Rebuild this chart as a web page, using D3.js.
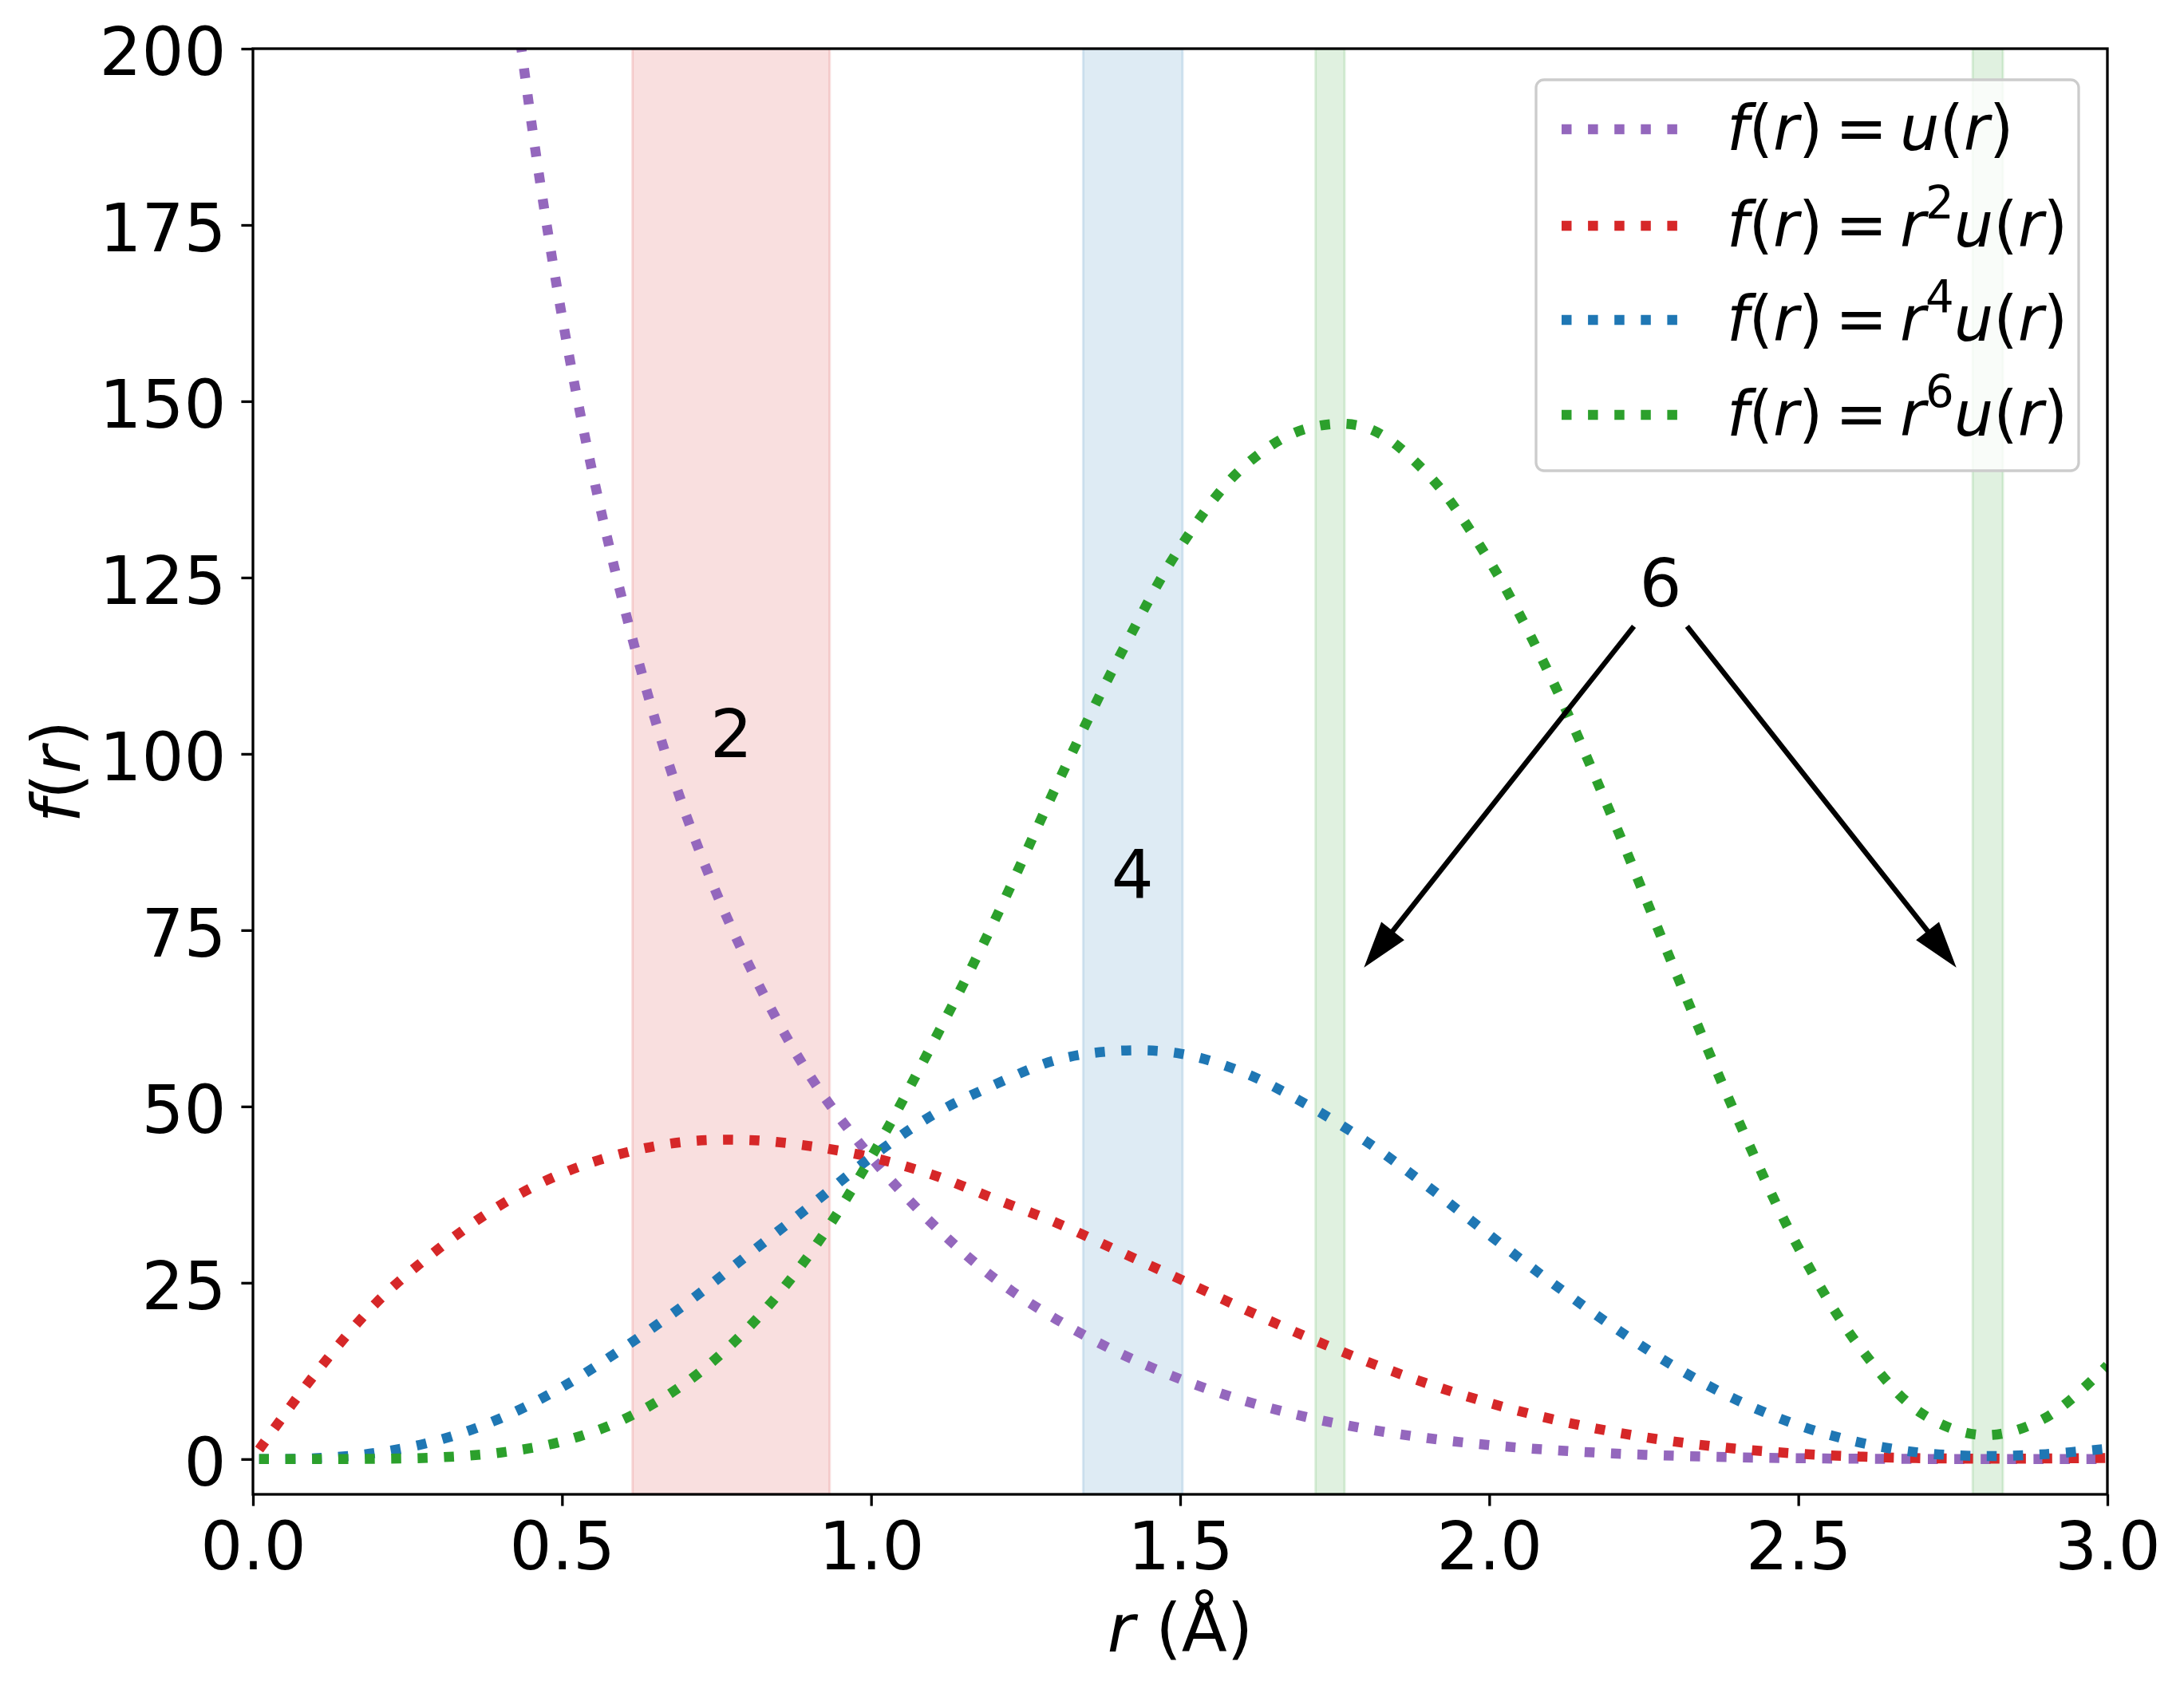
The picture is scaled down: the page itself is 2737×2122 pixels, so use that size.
<!DOCTYPE html>
<html>
<head>
<meta charset="utf-8">
<script src="https://cdn.jsdelivr.net/npm/d3@7"></script>
<style>
  body { margin: 0; background: #fff; }
  text { font-family: "DejaVu Sans", sans-serif; fill: #000; }
</style>
</head>
<body>
<svg id="chart"></svg>
<script>
// r grid (Å) and the four curves
const rVals = [0.01, 0.1, 0.2, 0.3, 0.4, 0.5, 0.6, 0.7, 0.8, 0.9, 1.0, 1.1, 1.2, 1.3, 1.4, 1.5,
               1.6, 1.7, 1.8, 1.9, 2.0, 2.1, 2.2, 2.3, 2.4, 2.5, 2.6, 2.7, 2.8, 2.9, 3.0]
const uVals  = [null, 1200, 555, 331, 225, 162, 121, 91.5, 70.5, 54.5, 42.8, 33.3, 25.6, 19.8, 15.1, 11.35,
                8.37, 6.05, 4.30, 2.97, 1.99, 1.29, 0.80, 0.47, 0.25, 0.12, 0.05, 0.017, 0.007, 0.010, 0.018]
const r2Vals = [1.35, 12.0, 22.2, 29.8, 36.0, 40.5, 43.4, 45.0, 45.25, 44.4, 42.8, 40.3, 36.9, 33.5, 29.5, 25.5,
                21.4, 17.5, 13.9, 10.7, 7.96, 5.70, 3.88, 2.48, 1.46, 0.77, 0.35, 0.12, 0.06, 0.08, 0.16]
const r4Vals = [0, 0.12, 0.89, 2.68, 5.76, 10.2, 15.8, 22.0, 28.9, 35.8, 42.8, 48.8, 53.1, 56.6, 57.9, 57.5,
                54.9, 50.5, 45.1, 38.7, 31.8, 25.1, 18.8, 13.1, 8.4, 4.8, 2.34, 0.88, 0.43, 0.70, 1.48]
const r6Vals = [0, 0.001, 0.04, 0.24, 0.92, 2.5, 5.65, 10.8, 18.5, 29.0, 42.8, 59.0, 76.4, 95.5, 113.5, 129.3,
                140.5, 146.0, 146.3, 139.7, 127.4, 110.8, 90.8, 69.4, 48.6, 30.0, 15.8, 6.45, 3.4, 5.85, 13.3]

const seriesPowers = [null, 2, 4, 6]
const seriesColors = ['#9467bd', '#d62728', '#1f77b4', '#2ca02c']
const seriesValues = [uVals, r2Vals, r4Vals, r6Vals]

// shaded r ranges
const bandStart = [0.614, 1.343, 1.719, 2.782]
const bandEnd   = [0.933, 1.504, 1.766, 2.831]
const bandColor = ['#d62728', '#1f77b4', '#2ca02c', '#2ca02c']

// labels "2", "4", "6" (centre positions) and the two arrows from "6"
const noteText = ['2', '4', '6']
const noteX = [0.774, 1.423, 2.277]
const noteY = [103, 83, 124.3]
const arrowFrom = [[2.234, 118.1], [2.320, 118.1]]
const arrowTo   = [[1.80, 70.0], [2.753, 70.0]]

const xTicks = [0, 0.5, 1.0, 1.5, 2.0, 2.5, 3.0]
const yTicks = [0, 25, 50, 75, 100, 125, 150, 175, 200]

const W = 2737, H = 2122
const FS = 83.3
const plot = {left: 317, right: 2641, top: 61, bottom: 1873}

svg = d3.select('#chart').attr('width', W).attr('height', H)

x = d3.scaleLinear().domain([0, 3]).range([plot.left, plot.right])
y = d3.scaleLinear().domain([-5, 200]).range([plot.bottom, plot.top])

svg.append('defs').append('clipPath').attr('id', 'clip')
    .append('rect')
    .attr('x', plot.left).attr('y', plot.top)
    .attr('width', plot.right - plot.left).attr('height', plot.bottom - plot.top)

// bands
svg.append('g').attr('clip-path', 'url(#clip)')
    .selectAll('rect')
    .data(bandStart.map((s, i) => ({s: s, e: bandEnd[i], c: bandColor[i]})))
    .join('rect')
    .attr('x', d => x(d.s))
    .attr('width', d => x(d.e) - x(d.s))
    .attr('y', plot.top)
    .attr('height', plot.bottom - plot.top)
    .attr('fill', d => d.c).attr('fill-opacity', 0.15)
    .attr('stroke', d => d.c).attr('stroke-opacity', 0.15).attr('stroke-width', 3)

// curves
line = d3.line()
    .defined(d => d[1] != null)
    .x(d => x(d[0]))
    .y(d => y(d[1]))
    .curve(d3.curveCatmullRom.alpha(0.5))

svg.append('g').attr('clip-path', 'url(#clip)')
    .selectAll('path')
    .data(seriesValues)
    .join('path')
    .attr('d', vals => line(rVals.map((r, i) => [r, vals[i]])))
    .attr('fill', 'none')
    .attr('stroke', (d, i) => seriesColors[i])
    .attr('stroke-width', 12.5)
    .attr('stroke-dasharray', '12.5,20.6')
    .attr('stroke-linecap', 'butt')

// annotations
svg.append('g').selectAll('text')
    .data(noteText)
    .join('text')
    .attr('x', (d, i) => x(noteX[i]))
    .attr('y', (d, i) => y(noteY[i]))
    .attr('dy', '0.364em')
    .attr('text-anchor', 'middle')
    .attr('font-size', FS)
    .text(d => d)

arrows = svg.append('g')
arrowFrom.forEach((p, i) => {
    x0 = x(p[0]); y0 = y(p[1])
    x1 = x(arrowTo[i][0]); y1 = y(arrowTo[i][1])
    len = Math.hypot(x1 - x0, y1 - y0)
    ux = (x1 - x0) / len; uy = (y1 - y0) / len
    headLen = 54; headHalf = 17
    bx = x1 - ux * headLen; by = y1 - uy * headLen
    arrows.append('line')
        .attr('x1', x0).attr('y1', y0)
        .attr('x2', bx + ux * 4).attr('y2', by + uy * 4)
        .attr('stroke', '#000').attr('stroke-width', 6.5)
    arrows.append('path')
        .attr('d', `M${x1},${y1} L${bx - uy * headHalf},${by + ux * headHalf} L${bx + uy * headHalf},${by - ux * headHalf} Z`)
        .attr('fill', '#000').attr('stroke', '#000').attr('stroke-width', 2).attr('stroke-linejoin', 'miter')
})

// axes
xAxis = svg.append('g')
    .attr('transform', `translate(0,${plot.bottom})`)
    .call(d3.axisBottom(x).tickValues(xTicks).tickFormat(d3.format('.1f')).tickSize(14.6).tickPadding(20))
yAxis = svg.append('g')
    .attr('transform', `translate(${plot.left},0)`)
    .call(d3.axisLeft(y).tickValues(yTicks).tickFormat(d3.format('d')).tickSize(14.6).tickPadding(19))
yAxis.selectAll('.tick text').attr('dy', '0.39em')
;[xAxis, yAxis].forEach(g => {
    g.select('.domain').remove()
    g.attr('font-size', FS).attr('font-family', '"DejaVu Sans", sans-serif')
    g.selectAll('.tick line').attr('stroke', '#000').attr('stroke-width', 3.3)
    g.selectAll('.tick text').attr('fill', '#000')
})

// spines
svg.append('rect')
    .attr('x', plot.left).attr('y', plot.top)
    .attr('width', plot.right - plot.left).attr('height', plot.bottom - plot.top)
    .attr('fill', 'none').attr('stroke', '#000').attr('stroke-width', 3.3)

// mathtext-like label: parts [text, italic?, superscript?]
function mathText(sel, parts) {
    sup = false
    parts.forEach(p => {
        t = sel.append('tspan').text(p[0])
        if (p[1]) t.attr('font-style', 'italic')
        if (p[2]) { t.attr('font-size', '0.72em').attr('dy', '-0.62em'); sup = true }
        else if (sup) { t.attr('dy', '0.446em'); sup = false }
    })
}

// axis labels
xl = svg.append('text')
    .attr('x', (plot.left + plot.right) / 2).attr('y', 2070)
    .attr('text-anchor', 'middle').attr('font-size', FS)
mathText(xl, [['r', true], [' (Å)', false]])

yl = svg.append('text')
    .attr('transform', `translate(100,${(plot.top + plot.bottom) / 2}) rotate(-90)`)
    .attr('text-anchor', 'middle').attr('font-size', FS)
mathText(yl, [['f', true], ['(', false], ['r', true], [')', false]])

// legend
legend = svg.append('g')
legend.append('rect')
    .attr('x', 1925).attr('y', 100).attr('width', 680).attr('height', 490)
    .attr('rx', 10).attr('ry', 10)
    .attr('fill', '#fff').attr('fill-opacity', 0.8)
    .attr('stroke', '#cccccc').attr('stroke-width', 3.3)
legendRows = [162, 283, 401, 520]
seriesPowers.forEach((pw, i) => {
    ry = legendRows[i]
    legend.append('line')
        .attr('x1', 1957).attr('x2', 2120).attr('y1', ry).attr('y2', ry)
        .attr('stroke', seriesColors[i]).attr('stroke-width', 12.5)
        .attr('stroke-dasharray', '12.5,20.6')
    t = legend.append('text')
        .attr('x', 2164).attr('y', ry + 26)
        .attr('font-size', 78)
    parts = [['f', true], ['(', false], ['r', true], [')', false], ['\u2009=\u2009', false]]
    if (pw != null) parts.push(['r', true], [String(pw), false, true])
    parts.push(['u', true], ['(', false], ['r', true], [')', false])
    mathText(t, parts)
})
</script>
</body>
</html>
